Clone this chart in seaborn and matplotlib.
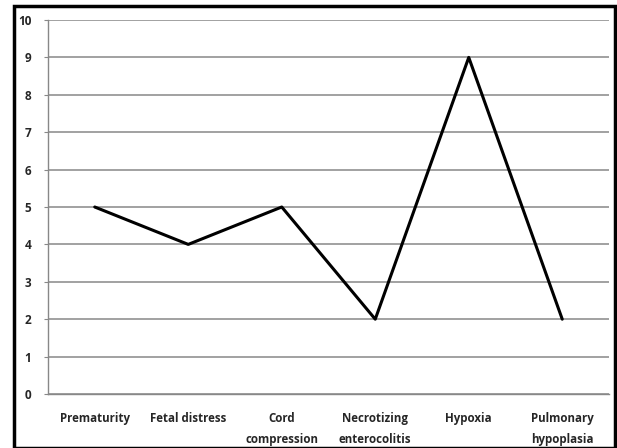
import numpy as np
import pandas as pd
import matplotlib
matplotlib.use("Agg")
import matplotlib.pyplot as plt
import seaborn as sns
from matplotlib.patches import Rectangle

causes = ["Prematurity", "Fetal distress", "Cord\ncompression",
          "Necrotizing\nenterocolitis", "Hypoxia", "Pulmonary\nhypoplasia"]
counts = [5, 4, 5, 2, 9, 2]
yticks = list(range(0, 11))

sns.set_style("white")
plt.rcParams['font.family'] = ['Open Sans', 'DejaVu Sans']

fig = plt.figure(figsize=(6.17, 4.48), dpi=100)
ax = fig.add_axes([48/617, 54/448, 561/617, 374/448])

df = pd.DataFrame({"cause": causes, "n": counts})
sns.lineplot(data=df, x="cause", y="n", ax=ax, color="black", linewidth=2.2, sort=False)

ax.set_ylim(0, 10)
ax.set_xlim(-0.5, len(causes) - 0.5)
ax.set_yticks(yticks)
ax.set_yticklabels([str(t) for t in yticks], fontsize=8.5, fontweight="bold")
ax.set_xticks(range(len(causes)))
ax.set_xticklabels(causes, fontsize=8.3, fontweight="bold", linespacing=1.75)
ax.set_xticks(np.arange(-0.5, len(causes)), minor=True)
ax.tick_params(axis="x", which="major", length=0, pad=13)
ax.tick_params(axis="x", which="minor", length=3, color="#888888", direction="out")
ax.tick_params(axis="y", length=3, color="#888888", pad=9, left=True)
ax.set_xlabel("")
ax.set_ylabel("")

ax.yaxis.grid(True, color="#9a9a9a", linewidth=1.3)
ax.xaxis.grid(False)
ax.set_axisbelow(True)
for s in ["top", "right"]:
    ax.spines[s].set_visible(False)
ax.spines["left"].set_color("#888888")
ax.spines["bottom"].set_color("#888888")
ax.spines["left"].set_linewidth(1.0)
ax.spines["bottom"].set_linewidth(1.0)

# outer frame around the whole chart
fig.patches.append(Rectangle((14/617, 0.0), 601/617, 442/448, transform=fig.transFigure,
                             fill=False, edgecolor="black", linewidth=2.5))

fig.savefig("out.png", dpi=100)
